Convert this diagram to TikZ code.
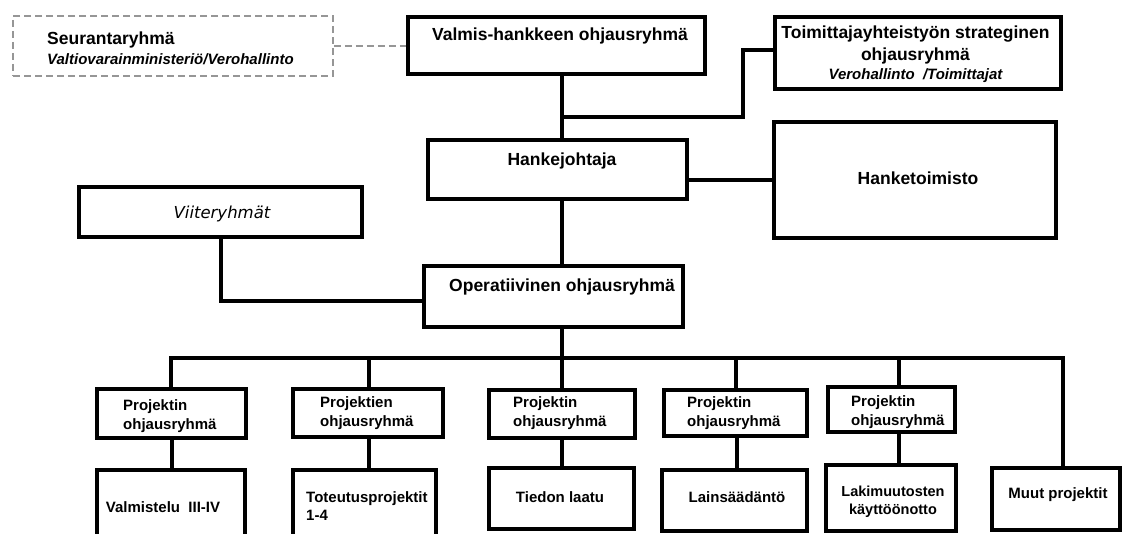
\documentclass[tikz,border=0pt]{standalone}
\usepackage{fontspec}
\setmainfont{Liberation Sans}
\newfontfamily\viitefont{DejaVu Sans}
\usetikzlibrary{calc}
\definecolor{dashgray}{RGB}{150,150,150}
\tikzset{
  box/.style 2 args={draw=black, line width=4pt, minimum width=#1, minimum height=#2, inner sep=0pt},
  dbox/.style 2 args={draw=dashgray, line width=1.5pt, dash pattern=on 7pt off 4pt,
              minimum width=#1, minimum height=#2, inner sep=0pt},
  conn/.style={draw=black, line width=4pt},
  dconn/.style={draw=dashgray, line width=1.5pt, dash pattern=on 7pt off 4pt},
  tb/.style={font=\bfseries\fontsize{17.5}{22}\selectfont, inner sep=0pt},
  ts/.style={font=\bfseries\fontsize{15}{19}\selectfont, inner sep=0pt},
  tsi/.style={font=\bfseries\itshape\fontsize{15}{19}\selectfont, inner sep=0pt},
  tv/.style={font=\viitefont\itshape\fontsize{16.5}{20}\selectfont, inner sep=0pt},
}

\begin{document}
\begin{tikzpicture}[x=1pt, y=-1pt]
    \useasboundingbox[fill=white] (0,0) rectangle (1125,534);
    \def\sx{562} \def\by{358}
    \node[dbox={320pt}{60pt}] (seur) at (173,46) {};
    \node[box={297pt}{57pt}] (valmis) at (556.5,45.5) {};
    \node[box={286pt}{72pt}] (toim) at (918,53) {};
    \node[box={259pt}{59pt}] (hanke) at (557.5,169.5) {};
    \node[box={282pt}{116pt}] (htoim) at (915,180) {};
    \node[box={283pt}{50pt}] (viite) at (220.5,212) {};
    \node[box={259pt}{61pt}] (oper) at (553.5,296.5) {};
    \node[box={149pt}{49pt}] (ohj1) at (171.5,413.5) {};
    \node[box={150pt}{48pt}] (ohj2) at (368,413) {};
    \node[box={146pt}{48pt}] (ohj3) at (562,414) {};
    \node[box={143pt}{46pt}] (ohj4) at (735.5,413) {};
    \node[box={127pt}{45pt}] (ohj5) at (891,409.5) {};
    \node[box={148pt}{88pt}] (proj1) at (171,514) {};
    \node[box={143pt}{88pt}] (proj2) at (364.5,514) {};
    \node[box={145pt}{61pt}] (proj3) at (561.5,498.5) {};
    \node[box={145pt}{61pt}] (proj4) at (734.5,500.5) {};
    \node[box={130pt}{66pt}] (proj5) at (891,498) {};
    \node[box={128pt}{62pt}] (muut) at (1056,499) {};

    \node[tb, anchor=west, align=left] (seur-t) at (47,48)
         {Seurantaryhmä\\[-2pt]{\bfseries\itshape\fontsize{15}{19}\selectfont Valtiovarainministeriö/Verohallinto}};
    \node[tb, anchor=base] (valmis-t) at (560,41) {Valmis-hankkeen ohjausryhmä};
    \node[tb, align=center] (toim-t) at (915.5,54.5)
         {Toimittajayhteistyön strateginen\\ohjausryhmä\\[-3pt]{\bfseries\itshape\fontsize{15}{19}\selectfont Verohallinto\ \ /Toimittajat}};
    \node[tb, anchor=base] (hanke-t) at (562,166) {Hankejohtaja};
    \node[tb, anchor=base] (htoim-t) at (918,185) {Hanketoimisto};
    \node[tv, anchor=base] (viite-t) at (222,219) {Viiteryhmät};
    \node[tb, anchor=base] (oper-t) at (562,292) {Operatiivinen ohjausryhmä};
    \node[ts, anchor=west, align=left] (ohj1-t) at (123,416.5) {Projektin\\ohjausryhmä};
    \node[ts, anchor=west, align=left] (ohj2-t) at (320,413.5) {Projektien\\ohjausryhmä};
    \node[ts, anchor=west, align=left] (ohj3-t) at (513,413.5) {Projektin\\ohjausryhmä};
    \node[ts, anchor=west, align=left] (ohj4-t) at (687,413.5) {Projektin\\ohjausryhmä};
    \node[ts, anchor=west, align=left] (ohj5-t) at (851,412.5) {Projektin\\ohjausryhmä};
    \node[ts, anchor=base] (proj1-t) at (163,512) {Valmistelu\ \ III-IV};
    \node[ts, anchor=west, align=left] (proj2-t) at (306,506.5) {Toteutusprojektit\\[-1pt]1-4};
    \node[ts, anchor=base] (proj3-t) at (560,502) {Tiedon laatu};
    \node[ts, anchor=base] (proj4-t) at (737,503) {Lainsäädäntö};
    \node[ts, align=center, font=\bfseries\fontsize{14.5}{19}\selectfont] (proj5-t) at (893,502) {Lakimuutosten\\[-1pt]käyttöönotto};
    \node[ts, anchor=base] (muut-t) at (1058,498) {Muut projektit};

    \coordinate (spine) at (\sx,0);
    \coordinate (j1) at (\sx,117);
    \coordinate (j2) at (743,50);
    \draw[dconn] (seur.east) -- (valmis.west |- seur.east);
    \draw[conn] (valmis.south -| spine) -- (hanke.north -| spine);
    \draw[conn] (j1) -| (j2) -- (toim.west |- j2);
    \draw[conn] (hanke.east |- htoim.west) -- (htoim.west);
    \draw[conn] (hanke.south -| spine) -- (oper.north -| spine);
    \draw[conn] (viite.south) |- ([yshift=-4.5pt]oper.west);
    \draw[conn] (oper.south -| spine) -- (\sx,\by);
    \draw[conn] (ohj1.north -| 171,0) |- (1063,\by) -- (muut.north -| 1063,0);
    \foreach \n/\x in {ohj2/369, ohj3/\sx, ohj4/736, ohj5/899}
      \draw[conn] (\x,\by) -- (\n.north -| \x,0);
    \foreach \n/\m/\x in {ohj1/proj1/172, ohj2/proj2/369, ohj3/proj3/\sx, ohj4/proj4/737, ohj5/proj5/899}
      \draw[conn] (\n.south -| \x,0) -- (\m.north -| \x,0);
\end{tikzpicture}
\end{document}
